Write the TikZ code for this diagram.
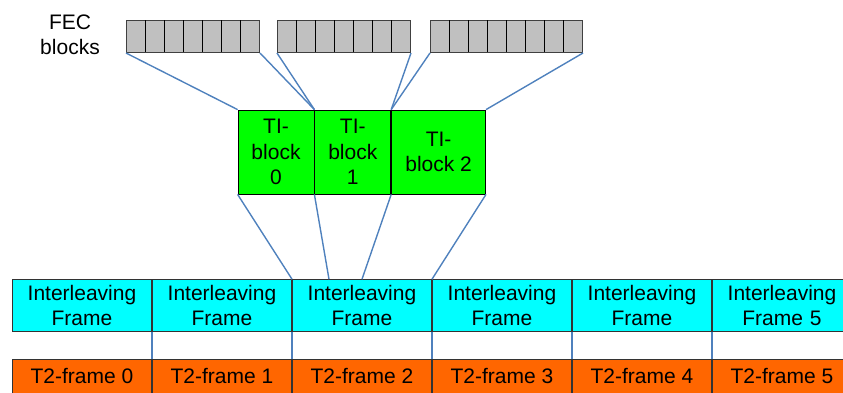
\documentclass[tikz,border=0pt]{standalone}
\usepackage{fontspec}
\setmainfont{Liberation Sans}
\usetikzlibrary{matrix}
\usetikzlibrary{positioning}

\definecolor{fecgrey}{HTML}{C0C0C0}
\definecolor{tigreen}{HTML}{00FF00}
\definecolor{ifcyan}{HTML}{00FFFF}
\definecolor{tworange}{HTML}{FF6600}
\definecolor{linkblue}{HTML}{4F81BD}

\tikzset{
  fec/.style={draw=black!75, line width=1pt, fill=fecgrey, minimum height=32pt, inner sep=0pt, anchor=north west},
  tiblock/.style={draw=black, line width=0.8pt, fill=tigreen, minimum height=84pt, inner sep=0pt, align=center},
  link/.style={draw=linkblue, line width=1.4pt},
}

\begin{document}
\begin{tikzpicture}[x=1pt,y=-1pt,font=\fontsize{21}{25.5}\selectfont]
  \useasboundingbox (0,0) rectangle (843,392);
  \clip (0,0) rectangle (843,392);
  % FEC blocks
  \node[align=center] (lbl) at (70,35) {FEC\\blocks};
  \node[fec,minimum width=133pt] (f0) at (126,20) {};
  \node[fec,minimum width=133pt] (f1) at (277,20) {};
  \node[fec,minimum width=152pt] (f2) at (430,20) {};
  \foreach \i in {1,...,6} {
    \draw[line width=0.8pt] (f0.north west) ++(19*\i,0) -- ++(0,32);
    \draw[line width=0.8pt] (f1.north west) ++(19*\i,0) -- ++(0,32);
  }
  \foreach \i in {1,...,7}
    \draw[line width=0.8pt] (f2.north west) ++(19*\i,0) -- ++(0,32);
  % TI blocks
  \node[tiblock,minimum width=76pt] (ti0) at (276,152) {TI-\\block\\0};
  \node[tiblock,minimum width=76pt,right=0pt of ti0] (ti1) {TI-\\block\\1};
  \node[tiblock,minimum width=94pt,right=0pt of ti1] (ti2) {TI-\\block 2};
  % frames
  \matrix (m) [matrix of nodes,column sep=0pt,row sep=27pt,
    nodes={draw=black!80,line width=0.8pt,minimum width=139.2pt,inner sep=0pt},
    row 1/.style={nodes={fill=ifcyan,minimum height=52pt,text width=130pt,align=center}},
    row 2/.style={nodes={fill=tworange,minimum height=34pt}}] at (432,336.5)
  {
    Interleaving Frame & Interleaving Frame & Interleaving Frame &
    Interleaving Frame & Interleaving Frame & Interleaving Frame 5 \\
    T2-frame 0 & T2-frame 1 & T2-frame 2 & T2-frame 3 & T2-frame 4 & T2-frame 5 \\
  };
  \coordinate (mid) at ([xshift=-33pt]m-1-3.north);
  \path[link]
    (f0.south west) edge (ti0.north west)
    (f0.south east) edge (ti1.north west)
    (f1.south west) edge (ti1.north west)
    (f1.south east) edge (ti2.north west)
    (f2.south west) edge (ti2.north west)
    (f2.south east) edge (ti2.north east)
    (ti0.south west) edge (m-1-3.north west)
    (ti1.south west) edge (mid)
    (ti2.south west) edge (m-1-3.north)
    (ti2.south east) edge (m-1-4.north west);
  \foreach \i in {1,...,5}
    \draw[link] (m-1-\i.south east) -- (m-2-\i.north east);
\end{tikzpicture}
\end{document}
